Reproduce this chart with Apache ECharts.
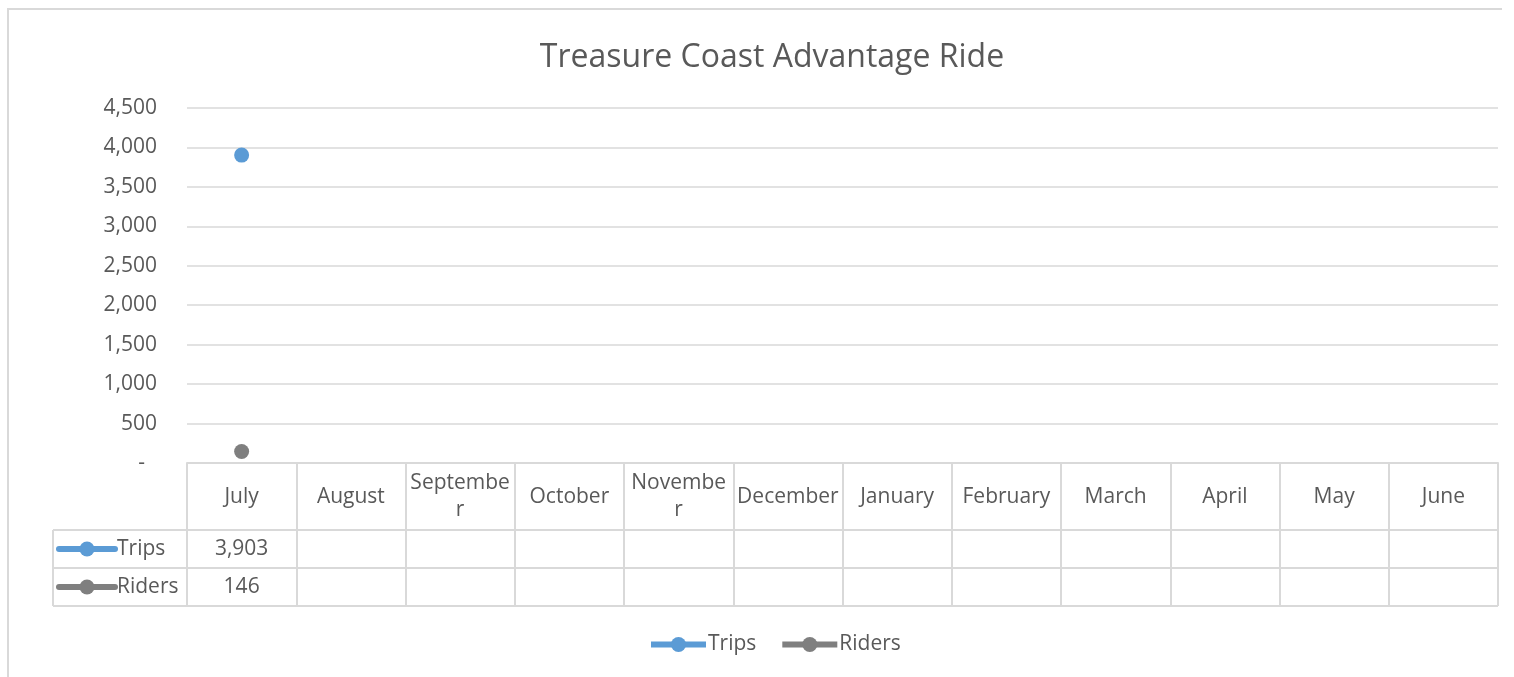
<!DOCTYPE html>
<html>
<head>
<meta charset="utf-8">
<script src="https://cdn.jsdelivr.net/npm/echarts@6/dist/echarts.min.js"></script>
<style>
html,body{margin:0;padding:0;background:#fff;overflow:hidden;}
#chart{width:1514px;height:677px;}
</style>
</head>
<body>
<div id="chart"></div>
<script>
// ---- data ----
var categories = ["July","August","September","October","November","December","January","February","March","April","May","June"];
var headerLabels = ["July","August","Septembe\nr","October","Novembe\nr","December","January","February","March","April","May","June"];
var seriesNames = ["Trips","Riders"];
var trips  = [3903, null, null, null, null, null, null, null, null, null, null, null];
var riders = [146,  null, null, null, null, null, null, null, null, null, null, null];
var yTicks = [0, 500, 1000, 1500, 2000, 2500, 3000, 3500, 4000, 4500];

// ---- style ----
var FONT = "'Open Sans', sans-serif";
var TXT = "#595959";
var LINE = "#D9D9D9";
var colors = ["#5B9BD5", "#7F7F7F"];
var G = {left: 187, right: 16, top: 108, bottom: 214};
var tableLeft = 53, headerH = 67, rowH = 38;

function fmt(v){ return v == null ? "" : v.toLocaleString("en-US"); }

var chart = echarts.init(document.getElementById("chart"), null, {renderer: "canvas"});
var option = {
  animation: false,
  backgroundColor: "#fff",
  color: colors,
  textStyle: {fontFamily: FONT},
  title: {
    text: "Treasure Coast Advantage Ride",
    left: 767, top: 37, textAlign: "center",
    textStyle: {fontFamily: FONT, fontSize: 32, fontWeight: "normal", color: TXT}
  },
  legend: {
    data: seriesNames,
    left: 648, top: 634, padding: 0,
    itemWidth: 55, itemHeight: 19, itemGap: 23,
    lineStyle: {width: 6},
    textStyle: {fontFamily: FONT, fontSize: 21, color: TXT, padding: [0,0,0,-3]}
  },
  grid: {left: G.left, right: G.right, top: G.top, bottom: G.bottom, containLabel: false},
  xAxis: {
    type: "category",
    data: categories,
    boundaryGap: true,
    axisLine: {show: true, lineStyle: {color: LINE, width: 2}},
    axisTick: {show: true, length: headerH + 2 * rowH, lineStyle: {color: LINE, width: 2}},
    axisLabel: {
      interval: 0, margin: 34, verticalAlign: "middle", lineHeight: 27,
      fontFamily: FONT, fontSize: 21, color: TXT,
      formatter: function(v, i){ return headerLabels[i]; }
    },
    splitLine: {show: false}
  },
  yAxis: {
    type: "value",
    min: yTicks[0], max: yTicks[yTicks.length - 1], interval: yTicks[1] - yTicks[0],
    axisLine: {show: false}, axisTick: {show: false},
    splitLine: {lineStyle: {color: LINE, width: 1.5}},
    axisLabel: {
      margin: 30, fontFamily: FONT, fontSize: 21, color: TXT,
      formatter: function(v){ return v === 0 ? "{d|-}" : fmt(v); },
      rich: {d: {fontFamily: FONT, fontSize: 21, color: TXT, padding: [0, 12, 0, 0]}}
    }
  },
  series: [
    {name: seriesNames[0], type: "line", data: trips, symbol: "circle", symbolSize: 15,
     lineStyle: {width: 6, color: colors[0]}, itemStyle: {color: colors[0]}},
    {name: seriesNames[1], type: "line", data: riders, symbol: "circle", symbolSize: 15,
     lineStyle: {width: 6, color: colors[1]}, itemStyle: {color: colors[1]}}
  ]
};
chart.setOption(option);

// ---- data table drawn from the axis scale ----
var W = 1514, H = 677;
var gBottom = H - G.bottom, gRight = W - G.right;
var yRow1 = gBottom + headerH, yRow2 = yRow1 + rowH, yRow3 = yRow2 + rowH;
var graphics = [];
// chart area border: top and left edges only (right and bottom edges lie outside the view)
graphics.push({type: "polyline", silent: true,
  shape: {points: [[8, H + 40], [8, 9], [W - 12, 9]]},
  style: {stroke: LINE, lineWidth: 2, fill: null}});
[yRow1, yRow2, yRow3].forEach(function(y){
  graphics.push({type: "line", silent: true, shape: {x1: tableLeft, y1: y, x2: gRight, y2: y},
    style: {stroke: LINE, lineWidth: 2}});
});
graphics.push({type: "line", silent: true, shape: {x1: tableLeft, y1: yRow1, x2: tableLeft, y2: yRow3},
  style: {stroke: LINE, lineWidth: 2}});
var rowData = [trips, riders];
rowData.forEach(function(arr, r){
  var cy = yRow1 + rowH * r + rowH / 2;
  graphics.push({type: "line", silent: true, shape: {x1: 59, y1: cy, x2: 115, y2: cy},
    style: {stroke: colors[r], lineWidth: 6, lineCap: "round"}});
  graphics.push({type: "circle", silent: true, shape: {cx: 87, cy: cy, r: 7.5},
    style: {fill: colors[r]}});
  graphics.push({type: "text", silent: true, x: 117, y: cy,
    style: {text: seriesNames[r], font: "21px " + FONT, fill: TXT, textVerticalAlign: "middle", textAlign: "left"}});
  arr.forEach(function(v, i){
    if (v == null) return;
    var cx = chart.convertToPixel({xAxisIndex: 0}, categories[i]);
    graphics.push({type: "text", silent: true, x: cx, y: cy,
      style: {text: fmt(v), font: "21px " + FONT, fill: TXT, textVerticalAlign: "middle", textAlign: "center"}});
  });
});
chart.setOption({graphic: graphics});
</script>
</body>
</html>
